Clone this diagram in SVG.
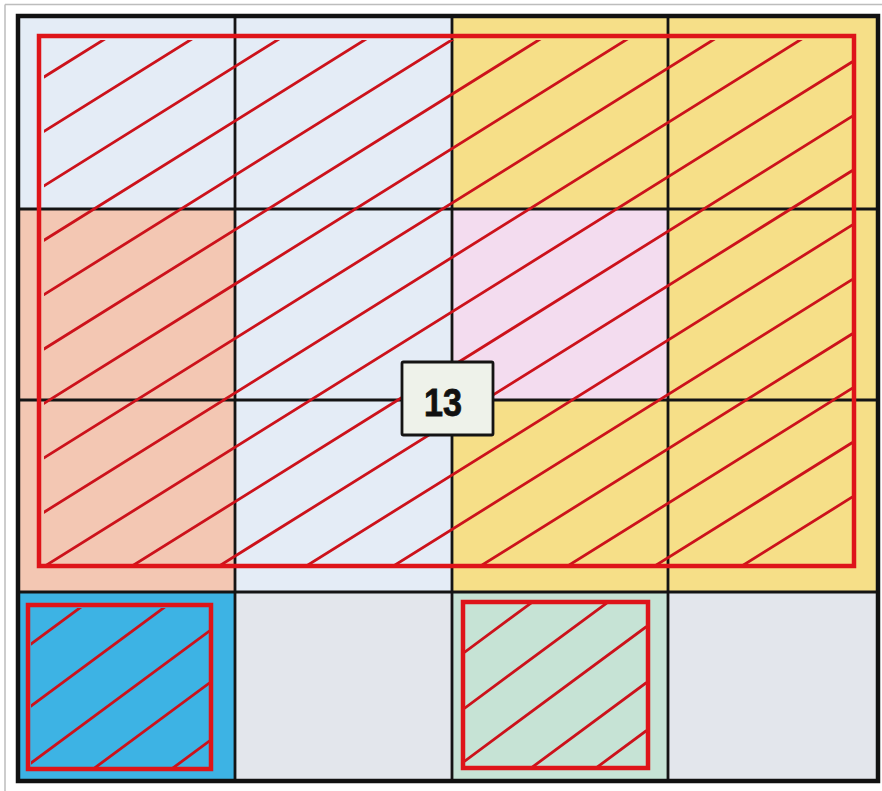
<svg xmlns="http://www.w3.org/2000/svg" width="882" height="791" viewBox="0 0 882 791">
  <style>
    .grid { stroke: #141414; stroke-width: 2.8; fill: none; }
    .outer { stroke: #111; stroke-width: 4.5; fill: none; }
    .zone { fill: none; stroke: #de1419; stroke-width: 4.5; }
    .hatch line { stroke: #cc121b; stroke-width: 2.8; stroke-linecap: round; }
    .label { font-family: "Liberation Sans", Arial, sans-serif; font-weight: bold; font-size: 38px; fill: #111; stroke: #111; stroke-width: 0.8; }
  </style>
  <defs>
    <clipPath id="clipBig"><rect x="44" y="40" width="808" height="525"/></clipPath>
    <clipPath id="clipBlue"><rect x="31" y="608" width="178" height="162"/></clipPath>
    <clipPath id="clipGreen"><rect x="465" y="604" width="181" height="165"/></clipPath>
  </defs>

  <rect x="0" y="0" width="882" height="791" fill="#ffffff"/>
  <g id="frame" stroke="#bdbdbd" stroke-width="1.5">
    <line x1="5" y1="4.5" x2="882" y2="4.5"/>
    <line x1="5" y1="4.5" x2="5" y2="791"/>
  </g>

  <g id="cells">
    <rect x="18" y="16" width="217" height="193" fill="#e4ecf6"/>
    <rect x="235" y="16" width="217" height="193" fill="#e4ecf6"/>
    <rect x="452" y="16" width="216" height="193" fill="#f6df88"/>
    <rect x="668" y="16" width="210" height="193" fill="#f6df88"/>
    <rect x="18" y="209" width="217" height="191" fill="#f3c7b3"/>
    <rect x="235" y="209" width="217" height="191" fill="#e4ecf6"/>
    <rect x="452" y="209" width="216" height="191" fill="#f3dcef"/>
    <rect x="668" y="209" width="210" height="191" fill="#f6df88"/>
    <rect x="18" y="400" width="217" height="192" fill="#f3c7b3"/>
    <rect x="235" y="400" width="217" height="192" fill="#e4ecf6"/>
    <rect x="452" y="400" width="216" height="192" fill="#f6df88"/>
    <rect x="668" y="400" width="210" height="192" fill="#f6df88"/>
    <rect x="18" y="592" width="217" height="189" fill="#3db3e4"/>
    <rect x="235" y="592" width="217" height="189" fill="#e3e6ec"/>
    <rect x="452" y="592" width="216" height="189" fill="#c6e3d5"/>
    <rect x="668" y="592" width="210" height="189" fill="#e3e6ec"/>
  </g>

  <g id="grid-lines" class="grid">
    <line x1="235" y1="16" x2="235" y2="781"/>
    <line x1="452" y1="16" x2="452" y2="781"/>
    <line x1="668" y1="16" x2="668" y2="781"/>
    <line x1="18" y1="209" x2="878" y2="209"/>
    <line x1="18" y1="400" x2="878" y2="400"/>
    <line x1="18" y1="592" x2="878" y2="592"/>
  </g>

  <g id="zone-large">
    <g class="hatch" clip-path="url(#clipBig)">
      <line x1="44" y1="77" x2="852" y2="-427.6"/>
      <line x1="44" y1="131.4" x2="852" y2="-373.2"/>
      <line x1="44" y1="185.8" x2="852" y2="-318.8"/>
      <line x1="44" y1="240.2" x2="852" y2="-264.4"/>
      <line x1="44" y1="294.6" x2="852" y2="-210"/>
      <line x1="44" y1="349" x2="852" y2="-155.6"/>
      <line x1="44" y1="403.4" x2="852" y2="-101.2"/>
      <line x1="44" y1="457.8" x2="852" y2="-46.8"/>
      <line x1="44" y1="512.2" x2="852" y2="7.6"/>
      <line x1="44" y1="566.6" x2="852" y2="62"/>
      <line x1="44" y1="621" x2="852" y2="116.4"/>
      <line x1="44" y1="675.4" x2="852" y2="170.8"/>
      <line x1="44" y1="729.8" x2="852" y2="225.2"/>
      <line x1="44" y1="784.2" x2="852" y2="279.6"/>
      <line x1="44" y1="838.6" x2="852" y2="334"/>
      <line x1="44" y1="893" x2="852" y2="388.4"/>
      <line x1="44" y1="947.4" x2="852" y2="442.8"/>
      <line x1="44" y1="1001.8" x2="852" y2="497.2"/>
    </g>
    <rect class="zone" x="39" y="36" width="815" height="530"/>
  </g>

  <g id="zone-blue">
    <g class="hatch" clip-path="url(#clipBlue)">
      <line x1="30" y1="644.8" x2="209" y2="512.3"/>
      <line x1="30" y1="706.8" x2="209" y2="574.3"/>
      <line x1="30" y1="763.8" x2="209" y2="631.3"/>
      <line x1="30" y1="815.8" x2="209" y2="683.3"/>
      <line x1="30" y1="873.8" x2="209" y2="741.3"/>
    </g>
    <rect class="zone" x="28" y="605" width="183" height="164"/>
  </g>

  <g id="zone-green">
    <g class="hatch" clip-path="url(#clipGreen)">
      <line x1="465" y1="651.9" x2="646" y2="518"/>
      <line x1="465" y1="707.9" x2="646" y2="574"/>
      <line x1="465" y1="760.9" x2="646" y2="627"/>
      <line x1="465" y1="816.9" x2="646" y2="683"/>
      <line x1="465" y1="864.9" x2="646" y2="731"/>
    </g>
    <rect class="zone" x="463" y="602" width="185" height="166"/>
  </g>

  <rect id="outer-border" class="outer" x="18" y="16" width="860" height="765"/>

  <g id="label-13">
    <rect x="402" y="362" width="91" height="73" rx="1.5" fill="#eef2ea" stroke="#141414" stroke-width="2.8"/>
    <text class="label" x="443" y="416" text-anchor="middle" textLength="38" lengthAdjust="spacingAndGlyphs">13</text>
  </g>
</svg>
